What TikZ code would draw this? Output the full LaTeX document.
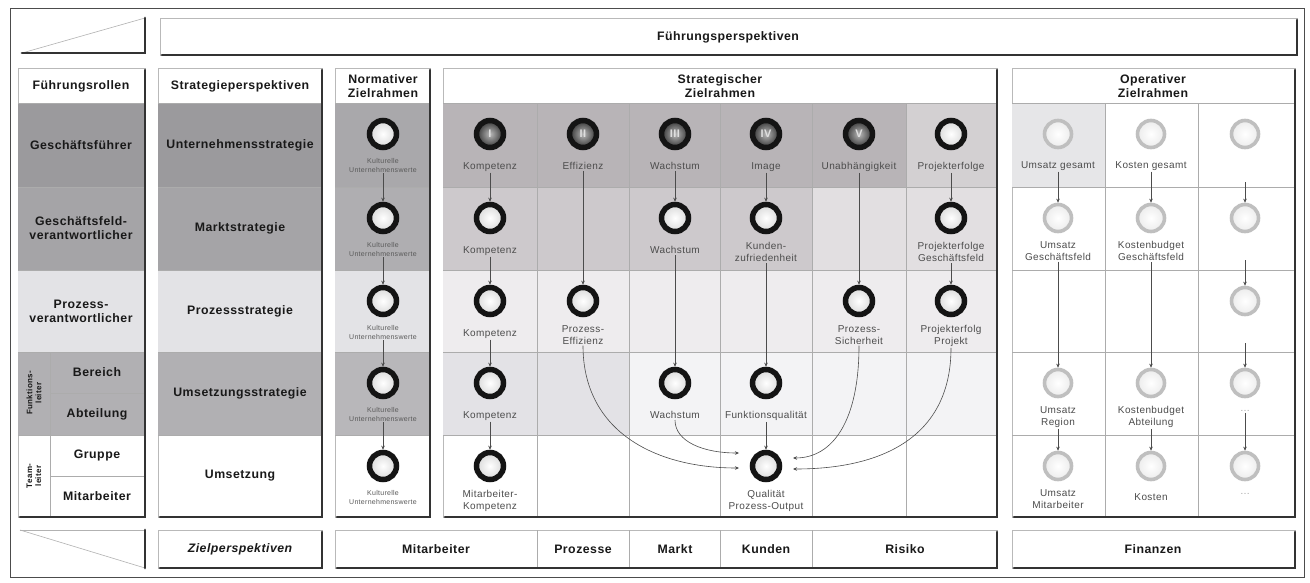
\documentclass[tikz,border=0pt]{standalone}
\usepackage{fontspec}
\setmainfont{Liberation Sans}
\newfontfamily\hfont[LetterSpace=4]{Liberation Sans}
\usetikzlibrary{arrows.meta,calc,positioning}
\definecolor{gA}{HTML}{9B9A9D}
\definecolor{gB}{HTML}{A5A4A7}
\definecolor{gC}{HTML}{E3E3E6}
\definecolor{gD}{HTML}{B1B0B3}
\definecolor{nA}{HTML}{A9A8AB}
\definecolor{nB}{HTML}{AFAEB1}
\definecolor{nD}{HTML}{B8B7BA}
\definecolor{sA}{HTML}{B8B4B7}
\definecolor{sA2}{HTML}{D3D0D2}
\definecolor{sB}{HTML}{CDC9CC}
\definecolor{sB2}{HTML}{E2DFE1}
\definecolor{sC}{HTML}{EEECEE}
\definecolor{sD}{HTML}{E3E2E6}
\definecolor{sD2}{HTML}{F3F3F5}
\definecolor{oA}{HTML}{E6E6E8}
\newcommand{\pnlbg}[4]{\draw[gray!55, line width=0.6pt, fill=white] (#1,#2) rectangle (#3,#4);}
\newcommand{\pnledge}[4]{\draw[black!80, line width=2.8pt, line cap=round] (#1+2,#4) -- (#3,#4) -- (#3,#2+2);}
\begin{document}
\begin{tikzpicture}[x=1pt,y=-1pt,
  every node/.style={inner sep=1pt},
  hd/.style={font=\hfont\bfseries\fontsize{12.3}{14}\selectfont, align=center, text=black!90},
  lb/.style={font=\hfont\fontsize{10}{12}\selectfont, align=center, text=black!70},
  nl/.style={font=\hfont\fontsize{7}{8.5}\selectfont, align=center, text=black!65},
  ball/.style={circle, minimum size=27pt, draw=black!92, line width=5.5pt, inner color=white, outer color=gray!30},
  dball/.style={ball, inner color=gray!55, outer color=black!80, font=\hfont\bfseries\fontsize{11}{11}\selectfont, text=gray!25},
  oball/.style={ball, draw=gray!50, line width=3.6pt, inner color=white, outer color=gray!15},
  arr/.style={-{Stealth[length=4pt,width=3.5pt]}, line width=0.6pt, draw=black!70},
  gl/.style={draw=gray!65, line width=0.6pt},
]
\useasboundingbox (0,0) rectangle (1310,582);
\fill[white] (0,0) rectangle (1310,582);
\draw[black!70, line width=1pt] (10,8) rectangle (1304,577);

% top row
\draw[gray!60, line width=0.6pt] (22,53) -- (145,18);
\draw[black!80, line width=2.8pt, line cap=round] (22,53) -- (145,53) -- (145,18);
\pnlbg{160}{18}{1297}{55}
\pnledge{160}{18}{1297}{55}
\node[hd] (fp) at (728,37) {Führungsperspektiven};

% panel backgrounds
\pnlbg{18}{68}{145}{517}
\pnlbg{158}{68}{322}{517}
\pnlbg{335}{68}{430}{517}
\pnlbg{443}{68}{997}{517}
\pnlbg{1012}{68}{1295}{517}

% left column fills
\fill[gA] (18,103) rectangle (145,187);
\fill[gB] (18,187) rectangle (145,270);
\fill[gC] (18,270) rectangle (145,352);
\fill[gD] (18,352) rectangle (145,435);
% strategy column fills
\fill[gA] (158,103) rectangle (322,187);
\fill[gB] (158,187) rectangle (322,270);
\fill[gC] (158,270) rectangle (322,352);
\fill[gD] (158,352) rectangle (322,435);
% normative fills
\fill[nA] (335,103) rectangle (430,187);
\fill[nB] (335,187) rectangle (430,270);
\fill[gC] (335,270) rectangle (430,352);
\fill[nD] (335,352) rectangle (430,435);
% strategic fills
\fill[sA] (443,103) rectangle (906,187);
\fill[sA2] (906,103) rectangle (997,187);
\fill[sB] (443,187) rectangle (812,270);
\fill[sB2] (812,187) rectangle (997,270);
\fill[sC] (443,270) rectangle (997,352);
\fill[sD] (443,352) rectangle (629,435);
\fill[sD2] (629,352) rectangle (997,435);
% operative fills
\fill[oA] (1012,103) rectangle (1105,187);

% grid lines
\foreach \yy in {103,187,270,352,435} {
  \draw[gl] (18,\yy) -- (145,\yy);
  \draw[gl] (158,\yy) -- (322,\yy);
  \draw[gl] (335,\yy) -- (430,\yy);
  \draw[gl] (443,\yy) -- (997,\yy);
  \draw[gl] (1012,\yy) -- (1295,\yy);
}
\draw[gl] (50,393) -- (145,393);
\draw[gl] (50,476) -- (145,476);
\draw[gl] (50,352) -- (50,517);
\foreach \xx in {537,629,720,812,906} \draw[gl] (\xx,103) -- (\xx,517);
\foreach \xx in {1105,1198} \draw[gl] (\xx,103) -- (\xx,517);

% panel edges
\pnledge{18}{68}{145}{517}
\pnledge{158}{68}{322}{517}
\pnledge{335}{68}{430}{517}
\pnledge{443}{68}{997}{517}
\pnledge{1012}{68}{1295}{517}

% left column texts
\node[hd] (fr) at (81,86) {Führungsrollen};
\node[hd] (r1) at (81,145) {Geschäftsführer};
\node[hd] (r2) at (81,228) {Geschäftsfeld-\\verantwortlicher};
\node[hd] (r3) at (81,311) {Prozess-\\verantwortlicher};
\node[hd, rotate=90, font=\hfont\bfseries\fontsize{8}{9}\selectfont] (fl) at (34,393) {Funktions-\\leiter};
\node[hd, rotate=90, font=\hfont\bfseries\fontsize{8}{9}\selectfont] (tl) at (34,476) {Team-\\leiter};
\node[hd] (r4a) at (97,372) {Bereich};
\node[hd] (r4b) at (97,414) {Abteilung};
\node[hd] (r5a) at (97,455) {Gruppe};
\node[hd] (r5b) at (97,496) {Mitarbeiter};

% strategy column texts
\node[hd] (sp) at (240,86) {Strategieperspektiven};
\node[hd] (sp1) at (240,145) {Unternehmensstrategie};
\node[hd] (sp2) at (240,228) {Marktstrategie};
\node[hd] (sp3) at (240,311) {Prozessstrategie};
\node[hd] (sp4) at (240,393) {Umsetzungsstrategie};
\node[hd] (sp5) at (240,476) {Umsetzung};

% headers
\node[hd] (nz) at (383,86) {Normativer\\Zielrahmen};
\node[hd] (sz) at (720,86) {Strategischer\\Zielrahmen};
\node[hd] (oz) at (1153,86) {Operativer\\Zielrahmen};

% normative balls
\foreach \i/\yy in {1/134,2/218,3/301,4/383,5/466} {
  \node[ball] (n\i) at (383,\yy) {};
  \node[nl, below=7pt of n\i] (n\i l) {Kulturelle\\Unternehmenswerte};
}
\foreach \i/\j in {1/2,2/3,3/4,4/5} \draw[arr] (n\i l) -- (n\j);

% strategic balls: s<col><row>
\node[dball] (s11) at (490,134) {I};
\node[dball] (s21) at (583,134) {II};
\node[dball] (s31) at (675,134) {III};
\node[dball] (s41) at (766,134) {IV};
\node[dball] (s51) at (859,134) {V};
\node[ball] (s61) at (951,134) {};
\node[lb, below=11pt of s11] (s11l) {Kompetenz};
\node[lb, below=11pt of s21] (s21l) {Effizienz};
\node[lb, below=11pt of s31] (s31l) {Wachstum};
\node[lb, below=11pt of s41] (s41l) {Image};
\node[lb, below=11pt of s51] (s51l) {Unabhängigkeit};
\node[lb, below=11pt of s61] (s61l) {Projekterfolge};

\node[ball] (s12) at (490,218) {};
\node[ball] (s32) at (675,218) {};
\node[ball] (s42) at (766,218) {};
\node[ball] (s62) at (951,218) {};
\node[lb, below=11pt of s12] (s12l) {Kompetenz};
\node[lb, below=11pt of s32] (s32l) {Wachstum};
\node[lb, below=7pt of s42] (s42l) {Kunden-\\zufriedenheit};
\node[lb, below=7pt of s62] (s62l) {Projekterfolge\\Geschäftsfeld};

\node[ball] (s13) at (490,301) {};
\node[ball] (s23) at (583,301) {};
\node[ball] (s53) at (859,301) {};
\node[ball] (s63) at (951,301) {};
\node[lb, below=11pt of s13] (s13l) {Kompetenz};
\node[lb, below=7pt of s23] (s23l) {Prozess-\\Effizienz};
\node[lb, below=7pt of s53] (s53l) {Prozess-\\Sicherheit};
\node[lb, below=7pt of s63] (s63l) {Projekterfolg\\Projekt};

\node[ball] (s14) at (490,383) {};
\node[ball] (s34) at (675,383) {};
\node[ball] (s44) at (766,383) {};
\node[lb, below=11pt of s14] (s14l) {Kompetenz};
\node[lb, below=11pt of s34] (s34l) {Wachstum};
\node[lb, below=11pt of s44] (s44l) {Funktionsqualität};

\node[ball] (s15) at (490,466) {};
\node[ball] (s45) at (766,466) {};
\node[lb, below=7pt of s15] (s15l) {Mitarbeiter-\\Kompetenz};
\node[lb, below=7pt of s45] (s45l) {Qualität\\Prozess-Output};

% strategic connectors
\draw[arr] (s11l) -- (s12);
\draw[arr] (s12l) -- (s13);
\draw[arr] (s13l) -- (s14);
\draw[arr] (s14l) -- (s15);
\draw[arr] (s21l) -- (s23);
\draw[arr] (s31l) -- (s32);
\draw[arr] (s32l) -- (s34);
\draw[arr] (s41l) -- (s42);
\draw[arr] (s42l) -- (s44);
\draw[arr] (s44l) -- (s45);
\draw[arr] (s51l) -- (s53);
\draw[arr] (s61l) -- (s62);
\draw[arr] (s62l) -- (s63);
\coordinate (qUL) at ($(s45.center)+(-27,-13)$);
\coordinate (qLL) at ($(s45.center)+(-27,2)$);
\coordinate (qUR) at ($(s45.center)+(27,-8)$);
\coordinate (qLR) at ($(s45.center)+(27,3)$);
\draw[arr] (s34l.south) .. controls +(0,22) and +(-35,0) .. (qUL);
\draw[arr] (s23l.south) .. controls +(0,85) and +(-85,0) .. (qLL);
\draw[arr] (s53l.south) .. controls +(0,75) and +(40,0) .. (qUR);
\draw[arr] (s63l.south) .. controls +(0,85) and +(95,0) .. (qLR);

% operative balls
\node[oball] (o11) at (1058,134) {};
\node[oball] (o21) at (1151,134) {};
\node[oball] (o31) at (1245,134) {};
\node[lb, below=11pt of o11] (o11l) {Umsatz gesamt};
\node[lb, below=11pt of o21] (o21l) {Kosten gesamt};
\node[oball] (o12) at (1058,218) {};
\node[oball] (o22) at (1151,218) {};
\node[oball] (o32) at (1245,218) {};
\node[lb, below=7pt of o12] (o12l) {Umsatz\\Geschäftsfeld};
\node[lb, below=7pt of o22] (o22l) {Kostenbudget\\Geschäftsfeld};
\node[oball] (o33) at (1245,301) {};
\node[oball] (o14) at (1058,383) {};
\node[oball] (o24) at (1151,383) {};
\node[oball] (o34) at (1245,383) {};
\node[lb, below=7pt of o14] (o14l) {Umsatz\\Region};
\node[lb, below=7pt of o24] (o24l) {Kostenbudget\\Abteilung};
\node[lb, below=11pt of o34, text=black!35] (o34l) {\dots};
\node[oball] (o15) at (1058,466) {};
\node[oball] (o25) at (1151,466) {};
\node[oball] (o35) at (1245,466) {};
\node[lb, below=7pt of o15] (o15l) {Umsatz\\Mitarbeiter};
\node[lb, below=11pt of o25] (o25l) {Kosten};
\node[lb, below=11pt of o35, text=black!35] (o35l) {\dots};
\coordinate (o31l) at ($(o31.center)+(0,48)$);
\coordinate (o32l) at ($(o32.center)+(0,42)$);
\coordinate (o33l) at ($(o33.center)+(0,42)$);
\draw[arr] (o11l) -- (o12);
\draw[arr] (o12l) -- (o14);
\draw[arr] (o14l) -- (o15);
\draw[arr] (o21l) -- (o22);
\draw[arr] (o22l) -- (o24);
\draw[arr] (o24l) -- (o25);
\draw[arr] (o31l) -- (o32);
\draw[arr] (o32l) -- (o33);
\draw[arr] (o33l) -- (o34);
\draw[arr] (o34l) -- (o35);

% bottom row
\draw[gray!60, line width=0.6pt] (20,530) -- (145,530);
\draw[gray!60, line width=0.6pt] (20,530) -- (145,568);
\draw[black!80, line width=2.8pt, line cap=round] (145,530) -- (145,568);
\pnlbg{158}{530}{322}{568}
\pnlbg{335}{530}{997}{568}
\pnlbg{1012}{530}{1295}{568}
\foreach \xx in {537,629,720,812} \draw[gl] (\xx,530) -- (\xx,568);
\pnledge{158}{530}{322}{568}
\pnledge{335}{530}{997}{568}
\pnledge{1012}{530}{1295}{568}
\node[hd, font=\hfont\bfseries\itshape\fontsize{12.3}{14}\selectfont] (zp) at (240,549) {Zielperspektiven};
\node[hd] (b1) at (436,549) {Mitarbeiter};
\node[hd] (b2) at (583,549) {Prozesse};
\node[hd] (b3) at (675,549) {Markt};
\node[hd] (b4) at (766,549) {Kunden};
\node[hd] (b5) at (905,549) {Risiko};
\node[hd] (b6) at (1153,549) {Finanzen};
\end{tikzpicture}
\end{document}
